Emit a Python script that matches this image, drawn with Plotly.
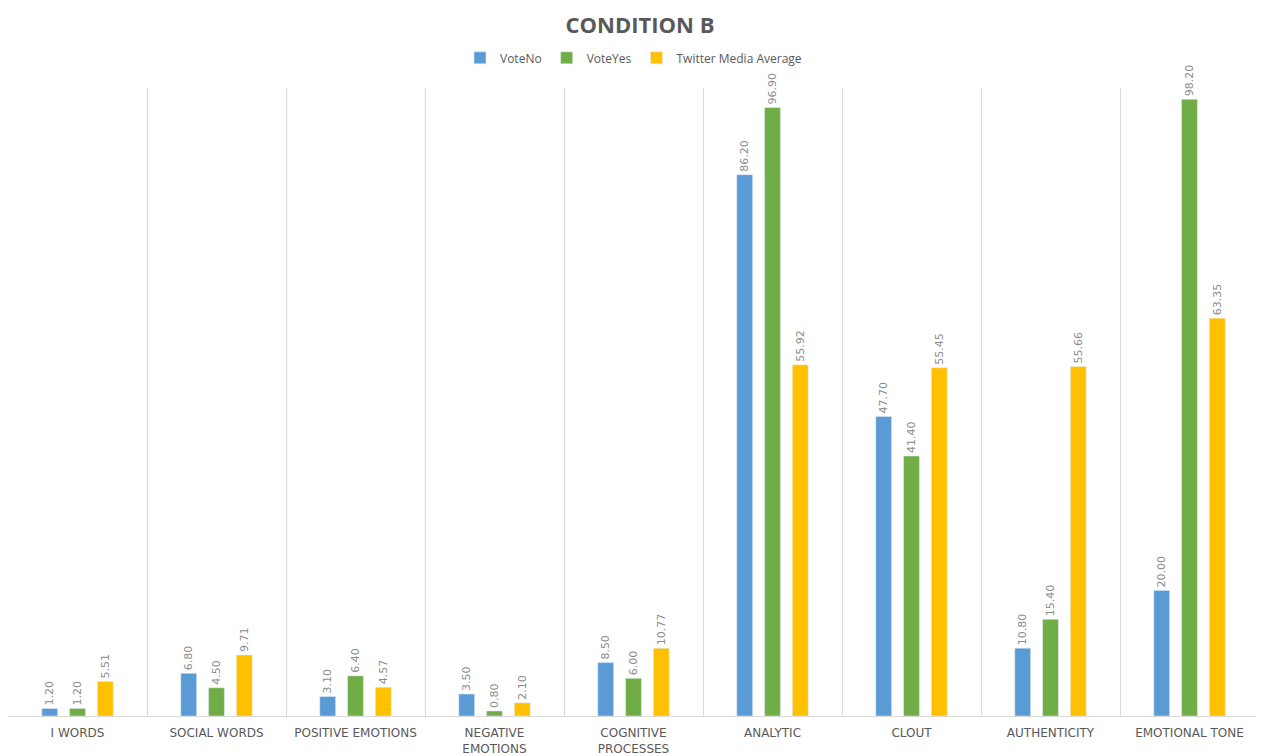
import plotly.graph_objects as go

categories = ["I WORDS", "SOCIAL WORDS", "POSITIVE EMOTIONS", "NEGATIVE<br>EMOTIONS",
              "COGNITIVE<br>PROCESSES", "ANALYTIC", "CLOUT", "AUTHENTICITY", "EMOTIONAL TONE"]
vote_no = [1.20, 6.80, 3.10, 3.50, 8.50, 86.20, 47.70, 10.80, 20.00]
vote_yes = [1.20, 4.50, 6.40, 0.80, 6.00, 96.90, 41.40, 15.40, 98.20]
twitter_avg = [5.51, 9.71, 4.57, 2.10, 10.77, 55.92, 55.45, 55.66, 63.35]

series = [("VoteNo", vote_no, "#5b9bd5"),
          ("VoteYes", vote_yes, "#70ad47"),
          ("Twitter Media Average", twitter_avg, "#ffc000")]

x = list(range(len(categories)))
fig = go.Figure()
for name, vals, color in series:
    fig.add_trace(go.Bar(
        x=x, y=vals, name=name, marker_color=color,
        text=[f"{v:.2f}" for v in vals], textposition="outside", textangle=-90,
        textfont=dict(size=11, color="#8c8c8c", family="DejaVu Sans"), cliponaxis=False,
    ))

fig.update_layout(
    width=1264, height=756,
    paper_bgcolor="white", plot_bgcolor="white",
    font=dict(family="Open Sans", color="#595959"),
    uniformtext=dict(minsize=11, mode="show"),
    title=dict(text="<b>CONDITION B</b>", x=0.5, xanchor="center", y=0.977, yanchor="middle",
               font=dict(size=22, color="#595959", family="Open Sans")),
    legend=dict(orientation="h", x=0.5, xanchor="center", y=1.048, yanchor="middle",
                font=dict(size=12, color="#595959"), itemwidth=30, traceorder="normal"),
    margin=dict(l=0, r=13, t=80, b=48, autoexpand=False),
    barmode="group", bargap=0.4, bargroupgap=0.43,
    xaxis=dict(tickvals=x, ticktext=categories, range=[-0.5, len(categories) - 0.5],
               automargin=False, ticklabelstandoff=6,
               showgrid=False, showline=True, linecolor="#d9d9d9", linewidth=1,
               ticks="", tickfont=dict(size=12, color="#595959", family="DejaVu Sans"), tickangle=0,
               minor=dict(tickvals=[i - 0.5 for i in range(len(categories) + 1)],
                          showgrid=True, gridcolor="#d9d9d9", gridwidth=1, ticks="")),
    yaxis=dict(range=[0, 100], visible=False, showgrid=False, zeroline=False, automargin=False),
)

fig.write_html("out.html")
